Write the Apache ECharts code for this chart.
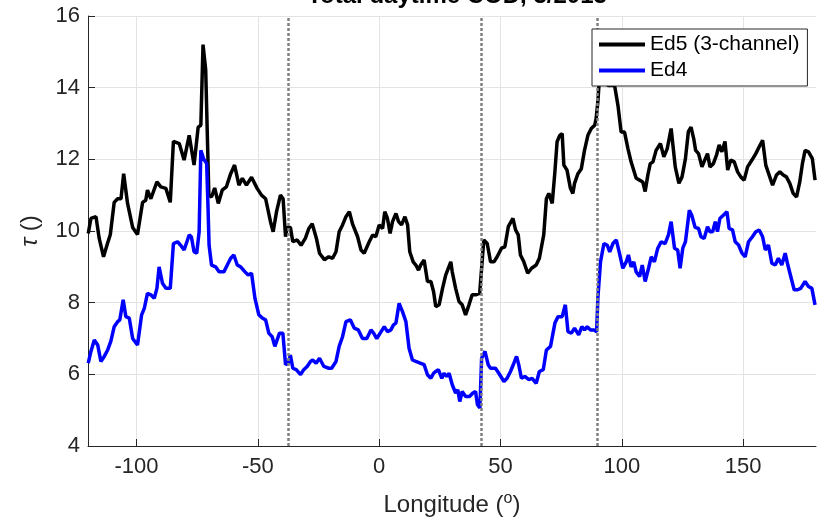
<!DOCTYPE html>
<html><head><meta charset="utf-8">
<script src="https://cdn.jsdelivr.net/npm/echarts@6/dist/echarts.min.js"></script>
<style>html,body{margin:0;padding:0;background:#fff}#c{width:826px;height:522px}</style>
</head><body><div id="c"></div>
<script>
const titleText = 'Total daytime COD, 3/2013';
const seriesNames = ['Ed5 (3-channel)', 'Ed4'];
const xTicks = [-100, -50, 0, 50, 100, 150];
const boundaryLon = [-37.5, 42, 90];

const ed5Lon = [-119.9,-118.8,-116.7,-115.4,-113.6,-112.2,-110.8,-109.2,-107.8,-106.4,-105.3,-103.7,-101.6,-99.6,-97.5,-96.2,-95.5,-94.1,-91.6,-90,-87.9,-86.1,-84.8,-82.4,-80.4,-78.3,-76.3,-74.6,-73.5,-72.6,-71.5,-70.2,-69.1,-67.8,-66.3,-64.7,-63,-61.2,-59.6,-57.8,-56.4,-54.7,-52.6,-50.3,-48.5,-46.8,-44.8,-43.7,-42.3,-40.7,-39.6,-38.6,-37.9,-36.6,-35.6,-33.8,-32.2,-30.4,-29,-27.6,-25.9,-24.6,-22.6,-20.8,-19.2,-17.8,-16.5,-15.1,-13.7,-12.3,-11,-8.9,-7.5,-6.2,-4.1,-2.7,-1.4,0,1.4,2.3,3.4,4.5,5.5,6.9,8,9.2,10.6,11.7,12.6,14,15.1,16.2,17.1,18.5,19.9,21.3,22.4,23.3,24.7,26.1,27.4,29.5,30.1,31.5,32.9,34.2,35.6,37,38.3,39.7,41.4,42.2,43.1,44.5,45.9,47.3,48.6,50.4,51.8,53.2,55.1,56.2,57.3,58.2,59.6,61.2,62.8,64.7,66,67.8,68.9,69.9,71.3,72.4,73.3,74.4,75.4,76.1,77.4,78.8,79.8,80.5,81.9,83.3,84.6,86,87.4,88.8,89.4,90.1,90.8,92.5,94.2,95.6,97,98.4,99.7,101.1,102.5,103.8,105.9,107.3,108.6,109.6,110.7,111.7,112.8,114.1,115.9,117.3,118.7,120.3,122,123.5,124.8,126.2,127.4,128.5,129.6,130.4,131.6,133,134.4,135.3,136.3,137.7,139,140.1,141.2,142.5,143.6,144.9,146.3,147.7,149,150.4,151.8,153.6,155.2,156.6,158,159.3,160.7,162.1,163.7,165.1,166.5,167.8,169.2,170.6,172,173.3,174.4,175.5,176.9,178.5,179.6];
const ed5Tau = [9.93,10.35,10.4,9.8,9.28,9.6,9.9,10.8,10.9,10.9,11.6,10.77,10.1,9.9,10.8,10.86,11.14,10.9,11.37,11.23,11.19,10.8,12.5,12.44,11.98,12.67,11.84,12.9,12.95,15.2,14.5,11.0,10.95,11.2,10.77,11.14,11.23,11.6,11.84,11.28,11.47,11.28,11.5,11.19,11.0,10.9,10.26,9.98,10.54,11.0,10.9,9.84,10.1,10.1,9.7,9.75,9.6,9.8,10.07,10.2,9.8,9.38,9.2,9.28,9.24,9.42,9.98,10.17,10.4,10.54,10.2,9.84,9.47,9.38,9.7,9.89,9.84,10.17,10.07,10.54,10.35,9.93,10.26,10.49,10.26,10.17,10.4,10.17,9.42,9.14,9.05,8.91,9.05,9.19,8.59,8.59,8.31,7.89,7.94,8.4,8.77,9.14,8.86,8.4,8.03,7.94,7.66,7.94,8.22,8.22,8.26,8.96,9.75,9.65,9.14,9.14,9.28,9.52,9.56,10.12,10.35,10.03,9.89,9.33,9.14,8.82,8.96,9.05,9.24,9.89,10.9,11.05,10.77,11.65,12.49,12.67,12.72,11.84,11.7,11.19,11.05,11.33,11.6,11.74,12.25,12.67,12.86,12.95,13.14,13.6,14.3,14.5,14.06,14.06,14.06,13.5,12.76,12.76,12.3,11.93,11.47,11.42,11.37,11.1,11.56,11.88,11.93,12.25,12.44,12.07,12.3,12.86,11.79,11.33,11.51,12.02,12.77,12.9,12.58,12.25,12.16,11.79,12.02,12.16,11.79,11.88,12.12,12.4,12.21,12.5,11.7,11.98,11.93,11.65,11.51,11.42,11.79,11.98,12.16,12.35,12.53,11.84,11.56,11.28,11.56,11.65,11.56,11.51,11.33,11.05,10.95,11.37,11.88,12.25,12.21,12.02,11.42];

const ed4Lon = [-119.9,-118.8,-117.4,-116,-114.7,-113.3,-111.9,-110.6,-109.2,-107.8,-106.9,-105.5,-104.4,-103,-101.6,-99.6,-97.9,-96.8,-95.5,-94.1,-92.7,-91.6,-90.7,-89.3,-87.9,-86.1,-84.8,-83.1,-81.8,-80.4,-78.3,-77.4,-76.3,-75.2,-74.2,-73.5,-72.4,-71.1,-70.6,-70.1,-69.1,-67.4,-66,-64,-62.6,-61.2,-59.9,-58.5,-57.1,-55.3,-54,-52.6,-51.2,-49.6,-48.2,-46.8,-45.5,-44.1,-43,-42.3,-41.1,-39.7,-38.6,-37.5,-36.6,-35.6,-34.2,-32.4,-31.1,-29.7,-28.3,-27.4,-26,-24.6,-22.8,-20.8,-19.6,-17.8,-16.5,-15.1,-13.7,-11.9,-10.3,-8.6,-6.9,-5.1,-3.4,-2.3,-1,0.4,2.1,3.4,4.8,5.9,6.9,8.2,9.6,11,12.3,13.7,15.1,16.9,18.5,19.9,21.3,22.4,23.3,24.4,25.8,26.7,27.8,28.8,30.1,31.5,32.4,33.2,34.2,35.6,37.2,38.6,39.7,40.5,41.5,42.2,43.6,44.9,45.9,47.9,49.3,51.4,52.7,54.1,55.5,56.6,57.5,58.6,60,61.7,63,64.7,66,67.6,68.9,70.6,72.4,73.7,75.4,76.7,77.8,79.2,80.5,81.2,82.2,83.5,84.6,85.7,87.1,88.5,89.6,90.1,91.2,92.6,94,95,96.3,97.7,99,100.4,101.8,102.7,103.8,104.9,105.9,107.3,108.4,109.6,111,112.1,113.4,114.8,116.2,117.8,119.2,120.3,121.7,123,124,125.1,126.2,127.8,128.8,130.2,131.6,132.6,133.9,135.3,136.3,137.4,138.5,139.4,140.4,141.8,143.3,144.2,145.6,146.7,148.1,149.5,150.8,152.2,153.8,155.2,156.6,158,159.1,160.4,161.8,163.2,164.5,165.9,167.3,168.4,169.6,171,172.4,173.7,175.5,176.9,178.3,179.6];
const ed4Tau = [6.31,6.64,6.96,6.82,6.36,6.5,6.68,6.92,7.33,7.47,7.52,8.08,7.61,7.57,7.0,6.82,7.66,7.84,8.26,8.22,8.12,8.4,9.0,8.54,8.4,8.4,9.65,9.7,9.6,9.47,9.89,9.84,9.42,9.38,9.98,12.25,12.02,11.88,10.8,9.6,9.05,9.0,8.86,8.86,9.05,9.24,9.33,9.05,9.0,8.86,8.77,8.82,8.12,7.66,7.57,7.52,7.15,7.05,6.78,6.78,7.15,7.15,6.27,6.31,6.54,6.17,6.13,5.99,6.13,6.22,6.36,6.4,6.31,6.45,6.22,6.17,6.17,6.36,6.78,7.05,7.47,7.52,7.29,7.24,7.0,7.0,7.24,7.15,7.0,7.15,7.33,7.19,7.24,7.38,7.43,7.98,7.75,7.47,6.73,6.4,6.36,6.31,6.27,5.99,5.89,6.03,6.08,6.13,5.89,6.03,5.94,6.03,5.71,5.48,5.57,5.24,5.52,5.38,5.38,5.48,5.52,5.15,5.06,6.45,6.64,6.27,6.17,6.17,6.03,5.8,5.89,6.08,6.31,6.5,6.27,5.89,5.94,5.85,5.89,5.75,6.08,6.13,6.68,6.78,7.43,7.61,7.61,7.94,7.19,7.15,7.29,7.29,7.1,7.33,7.24,7.33,7.24,7.24,7.19,8.12,9.14,9.65,9.6,9.42,9.65,9.75,9.38,8.96,9.14,9.33,9.0,9.14,8.86,8.73,9.05,8.59,8.96,9.28,9.14,9.52,9.7,9.65,9.89,10.26,9.52,9.47,8.96,9.52,9.7,10.58,10.44,10.1,10.07,9.84,9.79,10.12,9.98,9.98,10.26,9.98,10.35,10.44,10.54,10.07,10.03,9.7,9.61,9.38,9.28,9.7,9.84,9.98,10.03,9.84,9.47,9.61,9.1,9.05,9.24,9.05,9.38,9.05,8.73,8.36,8.36,8.4,8.59,8.45,8.4,7.94];

const FONT = '"Liberation Sans", Arial, Helvetica, sans-serif';
const TXT = '#262626';
const chart = echarts.init(document.getElementById('c'), null, {renderer: 'canvas'});
const pair = (xs, ys) => xs.map((x, i) => [x, ys[i]]);

chart.setOption({
  animation: false,
  backgroundColor: '#fff',
  textStyle: {fontFamily: FONT},
  title: {
    text: titleText, left: 452, textAlign: 'center', top: -21,
    textStyle: {fontFamily: FONT, fontSize: 24, fontWeight: 'bold', color: '#000'}
  },
  grid: {left: 88, right: 10, top: 16, bottom: 75, containLabel: false},
  legend: {
    data: seriesNames, orient: 'vertical', left: 592, top: 29,
    padding: [5, 8, 5, 7], itemGap: 5, itemWidth: 46, itemHeight: 4, icon: 'rect',
    backgroundColor: '#fff', borderColor: '#262626', borderWidth: 1, borderRadius: 0,
    textStyle: {fontFamily: FONT, fontSize: 21, color: '#000'}, z: 20
  },
  xAxis: {
    type: 'value', min: -120, max: 180,
    name: 'Longitude ({sup|o})', nameLocation: 'middle', nameGap: 45,
    nameTextStyle: {fontFamily: FONT, fontSize: 24, color: TXT,
      rich: {sup: {fontFamily: FONT, fontSize: 16, color: TXT, verticalAlign: 'bottom', padding: [0, 0, 12, 0]}}},
    axisLine: {show: true, onZero: false, lineStyle: {color: TXT, width: 1}},
    axisTick: {show: true, inside: true, length: 7, customValues: xTicks, lineStyle: {color: TXT}},
    axisLabel: {customValues: xTicks, fontFamily: FONT, fontSize: 22, color: TXT, margin: 10},
    splitLine: {show: true, lineStyle: {color: '#e3e3e3', width: 1}}
  },
  yAxis: {
    type: 'value', min: 4, max: 16, interval: 2,
    name: '{t|τ} ()', nameLocation: 'middle', nameGap: 46, nameRotate: 90,
    nameTextStyle: {fontFamily: FONT, fontSize: 24, color: TXT,
      rich: {t: {fontFamily: FONT, fontSize: 24, fontStyle: 'italic', color: TXT}}},
    axisLine: {show: true, onZero: false, lineStyle: {color: TXT, width: 1}},
    axisTick: {show: true, inside: true, length: 7, lineStyle: {color: TXT}},
    axisLabel: {fontFamily: FONT, fontSize: 22, color: TXT, margin: 8},
    splitLine: {show: true, lineStyle: {color: '#e3e3e3', width: 1}}
  },
  series: [
    {name: seriesNames[0], type: 'line', data: pair(ed5Lon, ed5Tau), showSymbol: false, symbol: 'none',
     color: '#000000', lineStyle: {color: '#000000', width: 3.5}, z: 3},
    {name: seriesNames[1], type: 'line', data: pair(ed4Lon, ed4Tau), showSymbol: false, symbol: 'none',
     color: '#0000ff', lineStyle: {color: '#0000ff', width: 3.5}, z: 4},
    {name: 'boundaries', type: 'line', data: [], z: 6, silent: true,
     markLine: {silent: true, symbol: ['none', 'none'], label: {show: false},
       lineStyle: {type: [3, 2], color: '#808080', width: 2.5},
       data: boundaryLon.map(v => ({xAxis: v}))}}
  ]
});
</script>
</body></html>
